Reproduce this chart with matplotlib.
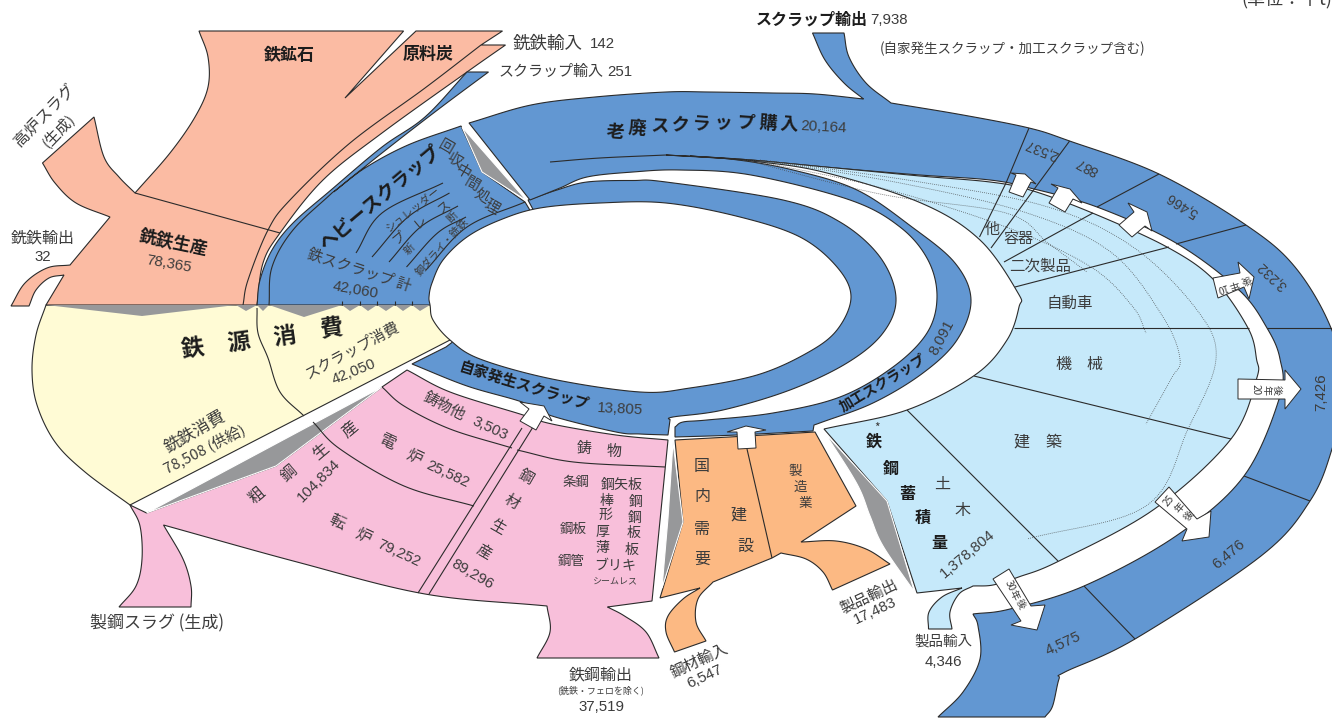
#!/usr/bin/env python3
import logging

import numpy as np
import matplotlib
matplotlib.use("Agg")
import matplotlib.pyplot as plt

logging.getLogger("matplotlib.font_manager").setLevel(logging.ERROR)

# flows, unit: thousand t
trade_names = ["銑鉄輸入", "スクラップ輸入", "スクラップ輸出", "銑鉄輸出",
               "鋼材輸入", "製品輸出", "製品輸入", "鉄鋼輸出"]
trade_values = [142, 251, 7938, 32, 6547, 17483, 4346, 37519]
iron_names = ["銑鉄生産", "銑鉄消費", "スクラップ消費", "鉄スクラップ 計"]
iron_values = [78365, 78508, 42050, 42060]
scrap_names = ["老廃スクラップ購入", "自家発生スクラップ", "加工スクラップ"]
scrap_values = [20164, 13805, 8091]
steel_names = ["粗鋼生産", "電炉", "転炉", "鋳物他", "鋼材生産", "鉄鋼蓄積量"]
steel_values = [104834, 25582, 79252, 3503, 89296, 1378804]
# dark ring, clockwise from the top
return_values = [2537, 887, 5466, 3232, 7426, 6476, 4575]
return_years = ["10", "20", "25", "30"]

FONT = ["Noto Sans CJK JP", "DejaVu Sans"]
NARROW = ["Liberation Sans Narrow", "Liberation Sans", "DejaVu Sans"]
plt.rcParams["font.family"] = FONT

SALMON = "#FBBBA3"
BLUE = "#6297D2"
LIGHT = "#C6E9FA"
PINK = "#F8BFDA"
YELLOW = "#FFFBD5"
ORANGE = "#FCB983"
GRAY = "#97989A"
EDGE = "#2b2b2b"
TXT = "#3c3c3c"
BOLD = "#1c1c1c"


def spline(pts, n=14):
    # catmull-rom through the points
    p = np.array(pts, float)
    if len(p) < 3:
        return p
    q = np.vstack([2 * p[0] - p[1], p, 2 * p[-1] - p[-2]])
    out = []
    for i in range(1, len(q) - 2):
        for u in np.linspace(0, 1, n, endpoint=False):
            out.append(0.5 * (2 * q[i] + (q[i + 1] - q[i - 1]) * u
                              + (2 * q[i - 1] - 5 * q[i] + 4 * q[i + 1] - q[i + 2]) * u ** 2
                              + (3 * q[i] - q[i - 1] - 3 * q[i + 1] + q[i + 2]) * u ** 3))
    out.append(q[-2])
    return np.array(out)


def shape(*segs, fc=BLUE, ec=EDGE, lw=0.8, z=2):
    xy = np.vstack([spline(s) for s in segs])
    ax.fill(xy[:, 0], xy[:, 1], fc=fc, ec=ec, lw=lw, zorder=z, joinstyle="miter")


def line(pts, lw=0.8, ls="-", c=EDGE, z=3):
    xy = spline(pts)
    ax.plot(xy[:, 0], xy[:, 1], color=c, lw=lw, ls=ls, zorder=z, solid_capstyle="butt")


def label(s, x, y, px=14, rot=0, bold=False, c=None, ha="center"):
    ax.text(x, y, s, fontsize=px * 0.72, rotation=rot, rotation_mode="anchor",
            ha=ha, va="center", fontweight="bold" if bold else "normal",
            color=c or (BOLD if bold else TXT), zorder=6, family=FONT)


def num(v, x, y, px=15, rot=0, ha="center", c=TXT):
    s = v if isinstance(v, str) else f"{v:,}"
    ax.text(x, y, s, fontsize=px * 0.72, rotation=rot, rotation_mode="anchor",
            ha=ha, va="center", color=c, zorder=6, family=NARROW)


def chars(s, pos, px=14, rot=0, bold=False):
    for ch, (x, y) in zip(s, pos):
        label(ch, x, y, px, rot, bold)


fig = plt.figure(figsize=(13.32, 7.18), dpi=100)
ax = fig.add_axes([0, 0, 1, 1])
ax.set_xlim(0, 1332)
ax.set_ylim(718, 0)
ax.axis("off")

# ---- iron source consumption
shape([(46, 305), (36, 335), (32, 370), (37, 405), (55, 442), (85, 472), (130, 505)],
      [(130, 505), (450, 340)], [(450, 340), (430, 305), (46, 305)], fc=YELLOW)
line([(257, 308), (258, 333), (268, 358), (280, 392), (304, 416)])

# ---- ore / coal / pig iron
shape([(199, 31), (403.6, 31)], [(403.6, 31), (345, 98)], [(345, 98), (416, 31)],
      [(416, 31), (502.5, 31)], [(502.5, 31), (481, 45)], [(481, 45), (505.5, 45)],
      [(505.5, 45), (467, 72), (382, 133), (323, 180), (280, 233), (263, 263), (257, 305)],
      [(257, 305), (46, 305)], [(46, 305), (64, 275)],
      [(64, 275), (49, 278), (36, 290), (29, 306)], [(29, 306), (11, 306)],
      [(11, 306), (25, 283), (47, 268), (70, 265)], [(70, 265), (110, 217)],
      [(110, 217), (76, 203), (55, 183), (42.5, 163)], [(42.5, 163), (94, 117)],
      [(94, 117), (104, 157), (119, 177), (135, 193)],
      [(135, 193), (170, 153), (195, 117), (208, 87), (208, 57), (199, 31)], fc=SALMON)
line([(135, 193), (280, 233)])
line([(481, 45), (425, 88), (350, 143), (290, 200), (268, 230), (248, 280), (243, 305)])

# ---- heavy scrap and the import sliver
shape([(257, 305), (260, 280), (272, 250), (293, 223), (331, 190), (382, 147), (425, 117), (467, 72)],
      [(467, 72), (488.5, 72)], [(488.5, 72), (437.5, 110), (382, 153), (333.5, 192)],
      [(333.5, 192), (365, 168), (408, 145), (461, 126)], [(461, 126), (482, 172)],
      [(482, 172), (525, 202)], [(525, 202), (560, 260)], [(560, 260), (430, 305)],
      [(430, 305), (257, 305)])
line([(269, 305), (272, 267), (293, 230), (333, 192)])
line([(443, 183), (382, 213), (356, 253)])
line([(449.5, 193), (408, 217), (372, 257)])
line([(458, 206), (420.5, 227), (389, 262)])
line([(466, 217), (437.5, 233), (406.5, 267)])
line([(525, 202), (467, 227), (426, 270)])
shape([(462, 127), (527, 201)], [(527, 201), (482, 172)], [(482, 172), (462, 127)],
      fc=GRAY, ec="white", lw=0.8, z=3)

# ---- inner ring (home scrap)
shape([(528, 200), (557, 190), (587, 182), (633, 180.5), (666, 182), (783, 200), (840, 222),
       (880, 257), (896, 298), (883, 333), (847, 363), (790, 390), (723, 410), (673, 417), (670, 420)],
      [(670, 420), (668, 435)],
      [(668, 435), (640, 434), (616, 432), (552, 416), (522, 402), (467, 386), (412, 364)],
      [(412, 364), (446, 347)], [(446, 347), (560, 260)], [(560, 260), (528, 200)])

# ---- old scrap purchases, outer dark band and the process scrap ring
shape([(469, 123), (531, 105), (595, 97), (666, 92), (708.5, 92), (772, 93), (815, 94), (863.5, 99)],
      [(863.5, 99), (844, 83), (825, 60), (812.5, 33)], [(812.5, 33), (844, 33)],
      [(844, 33), (849, 57), (866, 83), (891, 103)],
      [(891, 103), (963, 115), (1029, 128), (1069.6, 141), (1159, 174), (1246, 225), (1295, 267),
       (1331, 328), (1345, 390), (1332, 449), (1310, 501), (1261, 556), (1135, 639), (1065, 672),
       (1059, 679), (1052.6, 706), (1045, 717)],
      [(1045, 717), (938, 717)], [(938, 717), (963, 692), (980, 659), (978, 626), (973, 614)],
      [(973, 614), (1010, 609), (1084, 586), (1176, 536), (1244, 476), (1280, 396), (1280, 359),
       (1267, 328), (1239, 290), (1176, 243), (1097, 207), (1030, 188), (990, 180), (920, 175),
       (836, 168), (751, 160), (700, 157), (666, 155)],
      [(666, 155), (730, 159), (793, 170), (857, 190), (912, 227), (955, 263), (971, 300), (957, 340),
       (923, 373), (873, 403), (817, 424)],
      [(817, 424), (814, 425)], [(814, 425), (813, 431)], [(813, 431), (737, 435), (675, 437)],
      [(675, 437), (675, 427)],
      [(675, 427), (683, 422), (707, 420), (773, 413), (840, 397), (893, 367), (927, 333), (937, 297),
       (928, 260), (900, 227), (850, 200), (751, 175), (680, 170), (633, 172), (587, 177),
       (560, 188), (530, 200)],
      [(530, 200), (469, 123)])
line([(550, 162), (600, 158), (666, 155)])

# ---- stock (light blue)
shape([(690, 156), (751, 160), (836, 168), (920, 176), (990, 182), (1030, 190), (1090, 212), (1167, 247),
       (1214, 280), (1248, 328), (1256.5, 359), (1256.5, 379), (1231, 439), (1154.5, 509), (1059, 561),
       (1018.6, 577), (993, 585), (973, 586)],
      [(973, 586), (959, 594), (950, 612), (952, 629)], [(952, 629), (928.5, 629)],
      [(928.5, 629), (929, 612), (942, 597), (962, 588)], [(962, 588), (917, 593)],
      [(917, 593), (887, 501)], [(887, 501), (824, 429)],
      [(824, 429), (907, 410), (975, 375), (1007, 340), (1019, 307), (1018, 293), (980, 240), (921, 203),
       (823, 172), (751, 161), (690, 156)], fc=LIGHT, z=2)
for seg in ([(1029, 128), (1006, 183)], [(1006, 183), (979.5, 237)], [(1069.6, 141), (991, 248)],
            [(1159, 174), (1097, 207)], [(1093, 213), (1004, 262)], [(1246, 225), (1176, 244)],
            [(1169, 247), (1015, 287)], [(1014, 328), (1249, 328)], [(1267, 328), (1332, 328)],
            [(974, 376), (1231, 439)], [(907, 410), (1058, 561)], [(1244, 476), (1310, 501)],
            [(1084, 586), (1135, 639)]):
    line(seg)
for seg in ([(751, 160), (878, 187), (1006, 227), (1091, 267), (1133, 307), (1146, 333)],
            [(760, 160), (900, 183), (1027, 213), (1112, 253), (1163, 317), (1180, 359), (1171, 379), (1146, 424)],
            [(770, 161), (920, 182), (1048, 207), (1133, 247), (1197, 310), (1216, 359), (1188, 429), (1146, 506), (1027, 539)],
            [(745, 160), (880, 194), (1006, 213), (1048, 243), (1087, 272)]):
    line(seg, lw=0.55, ls=":", c="#444444")

# ---- pink steel block
shape([(407, 370), (450, 392), (520, 414), (552, 424), (616, 435), (668, 440)], [(668, 440), (652, 601)],
      [(652, 601), (607.5, 607)], [(607.5, 607), (624.5, 616), (646, 632), (659, 658)],
      [(659, 658), (537, 658)], [(537, 658), (550, 632), (547, 606)],
      [(547, 606), (425, 594), (297, 562), (163.5, 525)],
      [(163.5, 525), (183, 559), (191, 586), (191, 607)], [(191, 607), (119, 607)],
      [(119, 607), (136, 586), (142, 559), (140, 526), (130, 505)], [(130, 505), (146.6, 513)],
      [(146.6, 513), (276, 466)], [(276, 466), (382, 387)], [(382, 387), (407, 370)], fc=PINK)
shape([(146.6, 513), (276, 466)], [(276, 466), (382, 387)], [(382, 387), (146.6, 513)], fc=GRAY, ec="white", z=3)
line([(382, 387), (404, 406), (450, 429), (512, 448)])
line([(313, 422), (340, 449), (404, 486), (474, 506)])
line([(522, 428), (418, 593)])
line([(533, 427), (429, 594)])
line([(517, 450), (573.5, 462), (665, 467)])

# ---- orange demand block
shape([(675, 440), (747, 436), (815, 432)], [(815, 432), (856, 506)], [(856, 506), (801, 542)],
      [(801, 542), (836, 541), (866, 549), (890, 564)], [(890, 564), (832.5, 590)],
      [(832.5, 590), (823, 572), (806, 559), (781, 553)], [(781, 553), (772, 558)], [(772, 558), (713, 582)],
      [(713, 582), (698, 599), (696, 622), (706, 641)], [(706, 641), (674.5, 652)],
      [(674.5, 652), (666, 632), (668, 616), (683, 599), (700, 588)], [(700, 588), (660, 598)],
      [(660, 598), (683, 522)], [(683, 522), (675, 440)], fc=ORANGE)
line([(747, 449), (772, 558)])
shape([(673, 442), (683, 522)], [(683, 522), (662, 588)], [(662, 588), (668, 518)], [(668, 518), (673, 442)],
      fc=GRAY, ec="white", z=3)
shape([(825, 433), (857, 484), (870, 516), (883, 546), (914.5, 592)], [(914.5, 592), (887, 501)],
      [(887, 501), (825, 433)], fc=GRAY, ec="white", z=3)

# ---- central hole and the gray strip over the yellow block
shape([(430, 305), (429, 297), (432, 283), (443, 260), (467, 237), (500, 220), (540, 208), (600, 203),
       (666, 203), (740, 217), (800, 237), (837, 267), (851, 297), (837, 330), (807, 353), (757, 375),
       (690, 388), (640, 392), (552, 379), (480, 359), (450, 340), (433, 320), (430, 305)], fc="white", z=3)
teeth = [(46, 305), (142, 316), (236, 305), (246, 311), (257, 305), (263, 311), (269, 305), (304, 317),
         (342, 305), (350, 311), (360, 305), (368, 311), (377, 305), (386, 311), (395, 305),
         (403, 311), (412, 305), (420, 311), (430, 305)]
ax.fill(*zip(*teeth), fc=GRAY, ec="none", zorder=4)
for tx in (342, 360, 377, 395, 412):
    line([(tx, 301), (tx, 305)], z=5)

# ---- arrows
for poly in ([(1011, 173), (1025, 174), (1036, 184), (1031, 182), (1023, 197), (1009, 192), (1016, 175)],
             [(1051, 184), (1070, 189), (1082, 203), (1073, 199), (1065, 212), (1049, 203), (1058, 188)],
             [(1128, 203), (1147, 212), (1152, 231), (1145, 226), (1132, 237), (1119, 225), (1134, 212)],
             [(1213, 278), (1240, 273), (1238, 262), (1254, 277), (1249, 299), (1244, 287), (1218, 298)],
             [(1238, 379), (1285, 380), (1285, 370), (1301, 389), (1285, 409), (1285, 399), (1238, 399)],
             [(1169, 487), (1197, 519), (1211, 511), (1209, 537), (1182, 541), (1187, 529), (1155, 502)],
             [(993, 579), (1009, 569), (1031, 606), (1045, 605), (1037, 630), (1011, 625), (1021, 621)],
             [(520, 402), (544, 406), (552, 421), (544, 416), (536, 430), (520, 421), (529, 409)],
             [(746, 426), (766, 430), (755, 432), (756, 448), (738, 449), (737, 432), (727, 432)]):
    ax.fill(*zip(*poly), fc="white", ec=EDGE, lw=0.7, zorder=5, joinstyle="miter")

chars([return_years[0], "年", "後"], [(1222, 288), (1234, 284), (1246, 279)], 10, 198)
chars([return_years[1], "年", "後"], [(1256, 390), (1267, 390), (1277, 390)], 10, -90)
chars([return_years[2], "年", "後"], [(1169, 501), (1180, 508), (1189, 516)], 10, 50)
chars([return_years[3], "年", "後"], [(1010, 586), (1014, 595), (1021, 604)], 10, -65)

# ---- labels
label("鉄鉱石", 289, 55, 17, bold=True)
label("原料炭", 428, 54, 17, bold=True)
label(trade_names[0], 513, 44, 17.5, ha="left")
num(trade_values[0], 590, 44, ha="left")
label(trade_names[1], 498, 72, 15, ha="left")
num(trade_values[1], 607, 72, ha="left")
label("高炉スラグ", 45, 115, 16, 46)
label("(生成)", 58, 130, 15, 46)
label(trade_names[3], 43, 238, 16)
num(trade_values[3], 43, 257)
label(iron_names[0], 173, 243, 17.5, -12, bold=True)
num(iron_values[0], 169, 264, 15, -10)
label("ヘビースクラップ", 380, 198, 19, 40, bold=True)
chars("回収中間処理", [(446, 147), (454, 160), (462, 172), (472, 184), (482, 196), (491, 207)], 15, -30)
label("シュレッダー", 413, 210, 11, 38)
chars("プレス", [(399, 238), (420, 222), (444, 207)], 13, 40)
chars("新断", [(410, 249), (452, 217)], 11, 45)
label("鋼ダライ・銑鉄", 442, 247, 10.5, 48)
label(iron_names[3], 359, 271, 15, -18)
num(iron_values[3], 355, 290, 15, -10)
chars("老廃スクラップ購入", [(615, 133), (637, 129), (660, 127), (680, 126), (701, 124), (723, 124), (745, 123),
                      (768, 124), (789, 125)], 18, -4, bold=True)
num(scrap_values[0], 824, 127, 15, rot=-3)
label(trade_names[2], 812, 20, 16, bold=True)
num(trade_values[2], 870, 20, 15, ha="left")
label("(自家発生スクラップ・加工スクラップ含む)", 1013, 49, 13.5)
label("(単位：千t)", 1241, -1, 18, ha="left")
num(return_values[0], 1042, 149, 14, 158)
num(return_values[1], 1087, 166, 14, 152)
num(return_values[2], 1182, 205, 14, 147)
num(return_values[3], 1273, 275, 14, 137)
num(return_values[4], 1321, 392, 15, 90)
num(return_values[5], 1229, 554, 15, 40)
num(return_values[6], 1063, 644, 15, 25)
label(trade_names[6], 943, 642, 14.5)
num(trade_values[6], 943, 662, 15)
label(trade_names[5], 869, 597, 15.5, 25)
num(trade_values[5], 875, 611, 15, 25)
label(trade_names[4], 699, 661, 15.5, 25)
num(trade_values[4], 705, 677, 15, 25)
label(trade_names[7], 601, 675, 16)
label("(銑鉄・フェロを除く)", 601, 690, 9)
num(trade_values[7], 601, 707, 15)
label("製鋼スラグ (生成)", 157, 623, 17)
chars("鉄源消費", [(193, 350), (239, 343), (285, 337), (331, 330)], 23, 8, bold=True)
label(iron_names[2], 352, 351, 15, 28)
num(iron_values[2], 354, 372, 15, 22)
label(iron_names[1], 195, 431, 17, 30)
label(f"{iron_values[1]:,} (供給)", 204, 449, 15, 27)
label(scrap_names[1], 524, 386, 15, -17, bold=True)
num(scrap_values[1], 620, 409, 15, -3)
label(scrap_names[2], 883, 383, 14, 31, bold=True)
num(scrap_values[2], 942, 338, 15, 62)
label(steel_names[3], 444, 407, 15, -27)
num(steel_values[3], 490, 428, 15, -25)
chars("鋳物", [(584, 449), (614, 452)], 15)
chars(steel_names[0], [(257, 496), (289, 474), (321, 452), (350, 429)], 16, 40)
num(steel_values[0], 319, 481, 15, 45)
chars(steel_names[1], [(387, 442), (414, 457)], 16, -25)
num(steel_values[1], 448, 474, 15, -25)
chars(steel_names[2], [(336.5, 522), (363, 536)], 16, -25)
num(steel_values[2], 398.5, 553, 15, -25)
chars(steel_names[4], [(526, 477), (512, 502), (497, 527), (484, 552)], 15, -30)
num(steel_values[4], 472, 574, 15, -30)
label("条鋼", 575.6, 482, 13.5)
label("鋼板", 573.5, 529, 13.5)
label("鋼管", 571, 561, 13.5)
label("鋼矢板", 622, 485, 14)
chars("棒鋼形鋼厚板薄板", [(607, 501), (636, 502), (605, 515), (635, 518), (603, 532), (634, 533), (602, 548), (632, 550)], 14)
label("ブリキ", 615, 566, 14)
label("シームレス", 615, 582, 9)
chars("国内需要", [(702, 466), (702, 497), (702, 529), (702, 559)], 16)
chars("建設", [(738, 515), (745, 546)], 16)
chars("製造業", [(795, 471), (800, 487), (805, 503)], 13.5)
chars("機械", [(1063, 364), (1094, 364)], 16)
chars("建築", [(1021, 442), (1053, 442)], 16)
chars("土木", [(942, 484), (962.5, 511)], 16)
chars("鉄鋼蓄積量", [(874, 442), (891, 469), (907, 494), (923, 518), (939, 543)], 16, bold=True)
label("*", 877, 428, 12)
num(steel_values[5], 968, 554, 15, 40)
label("自動車", 1070, 303, 15.5)
label("二次製品", 1040, 266, 15.5)
label("容器", 1018, 239, 15)
label("他", 992, 230, 15)

fig.savefig("out.png", dpi=100)
